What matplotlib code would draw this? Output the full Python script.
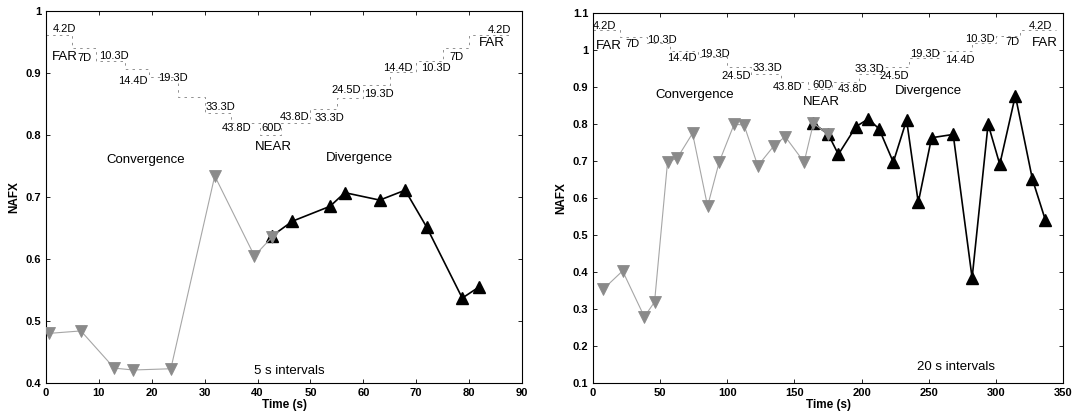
import matplotlib
matplotlib.use("Agg")
import matplotlib.pyplot as plt

plt.rcParams['font.family'] = ['Liberation Sans', 'DejaVu Sans']

# ---- left panel: 5 s intervals
t5_conv = [0.5, 6.6, 12.9, 16.5, 23.6, 31.9, 39.4, 42.7]
v5_conv = [0.480, 0.484, 0.424, 0.421, 0.423, 0.734, 0.605, 0.635]
t5_div = [42.7, 46.6, 53.7, 56.5, 63.1, 67.9, 72.0, 78.7, 81.9]
v5_div = [0.637, 0.661, 0.685, 0.707, 0.695, 0.711, 0.651, 0.537, 0.555]

# stimulus staircase (left)
s5_edges = [0, 5, 9.5, 15, 19.5, 25, 30, 35, 40.5, 44.5, 50, 55, 60, 65, 70, 75, 80, 88]
s5_level = [0.962, 0.941, 0.920, 0.906, 0.893, 0.862, 0.835, 0.820, 0.800,
            0.820, 0.842, 0.860, 0.880, 0.902, 0.920, 0.941, 0.962]
s5_label = ["4.2D", "7D", "10.3D", "14.4D", "19.3D", "", "33.3D", "43.8D", "60D",
            "43.8D", "33.3D", "24.5D", "19.3D", "14.4D", "10.3D", "7D", "4.2D"]
s5_lx = [3.5, 7.3, 12.9, 16.4, 24.0, 0, 33.0, 36.0, 42.7,
         47.0, 53.6, 56.7, 63.0, 66.6, 73.8, 77.7, 85.8]
s5_ly = [0.971, 0.924, 0.927, 0.887, 0.892, 0, 0.845, 0.811, 0.811,
         0.829, 0.827, 0.873, 0.866, 0.908, 0.908, 0.926, 0.969]

# ---- right panel: 20 s intervals
t20_conv = [7.4, 22.0, 38.2, 45.8, 55.5, 62.5, 74.1, 85.3, 94.0, 105.1, 112.5,
            122.7, 134.9, 143.1, 157.2, 164.1, 175.2]
v20_conv = [0.353, 0.403, 0.279, 0.319, 0.698, 0.707, 0.775, 0.578, 0.698, 0.800,
            0.797, 0.687, 0.742, 0.766, 0.697, 0.802, 0.772]
t20_div = [164.1, 175.2, 182.7, 195.8, 205.0, 213.0, 223.6, 233.5, 242.2, 252.1,
           268.2, 282.3, 294.2, 302.9, 314.5, 327.2, 336.9]
v20_div = [0.802, 0.772, 0.718, 0.793, 0.814, 0.787, 0.697, 0.811, 0.588, 0.763,
           0.772, 0.384, 0.800, 0.691, 0.877, 0.651, 0.540]

s20_edges = [0, 20, 40, 57, 78, 100, 118, 140, 160, 178, 198, 215, 235, 258, 282, 300, 318, 345]
s20_level = [1.054, 1.035, 1.018, 0.998, 0.980, 0.955, 0.935, 0.915, 0.895,
             0.915, 0.935, 0.955, 0.978, 0.998, 1.018, 1.037, 1.055]
s20_label = ["4.2D", "7D", "10.3D", "14.4D", "19.3D", "24.5D", "33.3D", "43.8D", "60D",
             "43.8D", "33.3D", "24.5D", "19.3D", "14.4D", "10.3D", "7D", "4.2D"]
s20_lx = [8.5, 29.6, 51.0, 66.0, 91.0, 106.6, 130.0, 144.5, 171.0,
          193.6, 206.0, 224.0, 247.0, 273.0, 288.0, 312.0, 333.0]
s20_ly = [1.066, 1.016, 1.028, 0.978, 0.989, 0.930, 0.951, 0.899, 0.906,
          0.895, 0.948, 0.931, 0.989, 0.974, 1.030, 1.023, 1.066]

fig = plt.figure(figsize=(10.73, 4.18), dpi=100)
ax1 = fig.add_axes([0.0429, 0.0837, 0.4436, 0.890])
ax2 = fig.add_axes([0.5527, 0.0837, 0.4380, 0.885])

gray = '#8a8a8a'


def panel(ax, tc, vc, td, vd, edges, level, labels, lx, ly):
    # staircase
    xs, ys = [], []
    for i in range(len(level)):
        xs += [edges[i], edges[i + 1]]
        ys += [level[i], level[i]]
    ax.plot(xs, ys, color='0.5', lw=0.6, ls=(0, (3, 5)))
    for i in range(len(labels)):
        if labels[i]:
            ax.text(lx[i], ly[i], labels[i], ha='center', va='center', fontsize=8)
    ax.plot(tc, vc, color='0.65', lw=0.8, ls='-', marker='v', ms=8,
            mfc=gray, mec='0.55', mew=0.6, zorder=4)
    ax.plot(td, vd, color='k', lw=1.2, marker='^', ms=8.5, mfc='k', mec='k', zorder=3)
    ax.tick_params(direction='in', top=True, right=True, labelsize=8, length=3, width=0.6)
    for lab in ax.get_xticklabels() + ax.get_yticklabels():
        lab.set_fontweight('bold')
    for sp in ax.spines.values():
        sp.set_linewidth(0.8)
    ax.set_xlabel("Time (s)", fontsize=8.5, fontweight='bold', labelpad=1)
    ax.set_ylabel("NAFX", fontsize=8.5, fontweight='bold', labelpad=4)


panel(ax1, t5_conv, v5_conv, t5_div, v5_div, s5_edges, s5_level, s5_label, s5_lx, s5_ly)
ax1.set_xlim(0, 90)
ax1.set_ylim(0.4, 1.0)
ax1.set_xticks(range(0, 91, 10))
ax1.set_yticks([0.4, 0.5, 0.6, 0.7, 0.8, 0.9, 1.0])
ax1.set_yticklabels(["0.4", "0.5", "0.6", "0.7", "0.8", "0.9", "1"], fontweight='bold')
ax1.text(3.5, 0.926, "FAR", ha='center', va='center', fontsize=9.5)
ax1.text(84.3, 0.948, "FAR", ha='center', va='center', fontsize=9.5)
ax1.text(43.0, 0.780, "NEAR", ha='center', va='center', fontsize=9.5)
ax1.text(18.9, 0.760, "Convergence", ha='center', va='center', fontsize=9.5)
ax1.text(59.2, 0.763, "Divergence", ha='center', va='center', fontsize=9.5)
ax1.text(46.0, 0.420, "5 s intervals", ha='center', va='center', fontsize=9.5)

panel(ax2, t20_conv, v20_conv, t20_div, v20_div, s20_edges, s20_level, s20_label, s20_lx, s20_ly)
ax2.set_xlim(0, 350)
ax2.set_ylim(0.1, 1.1)
ax2.set_xticks(range(0, 351, 50))
ax2.set_yticks([0.1, 0.2, 0.3, 0.4, 0.5, 0.6, 0.7, 0.8, 0.9, 1.0, 1.1])
ax2.set_yticklabels(["0.1", "0.2", "0.3", "0.4", "0.5", "0.6", "0.7", "0.8", "0.9", "1", "1.1"],
                    fontweight='bold')
ax2.text(12.0, 1.011, "FAR", ha='center', va='center', fontsize=9.5)
ax2.text(336.5, 1.020, "FAR", ha='center', va='center', fontsize=9.5)
ax2.text(170.0, 0.860, "NEAR", ha='center', va='center', fontsize=9.5)
ax2.text(76.0, 0.879, "Convergence", ha='center', va='center', fontsize=9.5)
ax2.text(249.5, 0.890, "Divergence", ha='center', va='center', fontsize=9.5)
ax2.text(270.0, 0.142, "20 s intervals", ha='center', va='center', fontsize=9.5)

fig.savefig("out.png", dpi=100)
